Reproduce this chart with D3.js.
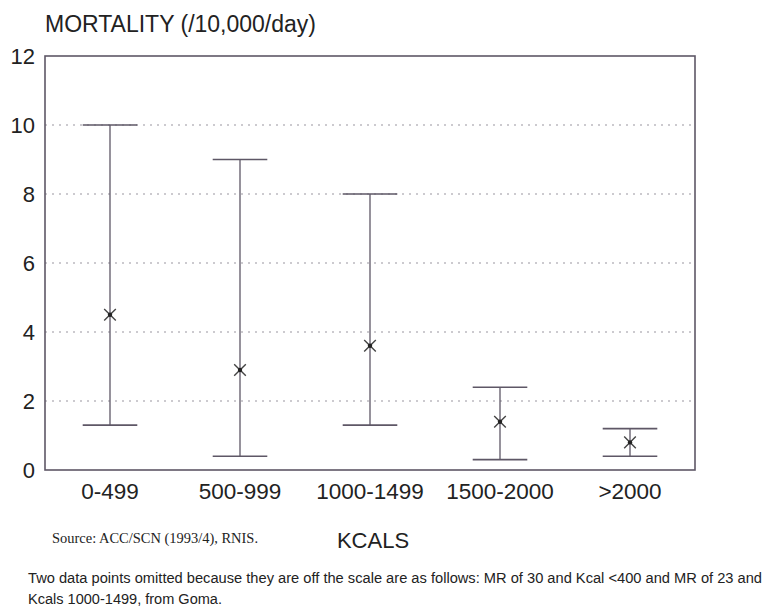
<!DOCTYPE html>
<html>
<head>
<meta charset="utf-8">
<script src="https://cdn.jsdelivr.net/npm/d3@7"></script>
<style>
  body { margin: 0; background: #fff; }
  svg text { fill: #222; }
</style>
</head>
<body>
<script>
// chart values
var categories = ["0-499", "500-999", "1000-1499", "1500-2000", ">2000"]
var means = [4.5, 2.9, 3.6, 1.4, 0.8]
var highs = [10, 9, 8, 2.4, 1.2]
var lows = [1.3, 0.4, 1.3, 0.3, 0.4]
var yTicks = [0, 2, 4, 6, 8, 10, 12]

var title = "MORTALITY (/10,000/day)"
var xTitle = "KCALS"
var source = "Source: ACC/SCN (1993/4), RNIS."
var note1 = "Two data points omitted because they are off the scale are as follows: MR of 30 and Kcal <400 and MR of 23 and"
var note2 = "Kcals 1000-1499, from Goma."

var data = categories.map(function(c, i) {
  return { cat: c, mean: means[i], hi: highs[i], lo: lows[i] }
})

const width = 764, height = 613
const margin = { top: 56, left: 45, right: 69, bottom: 143 }
var plotW = width - margin.left - margin.right
var plotH = height - margin.top - margin.bottom
var lineColor = "#5e5766"

var svg = d3.select("body").append("svg")
  .attr("width", width)
  .attr("height", height)
  .style("font-family", "'Liberation Sans', Arial, sans-serif")

var g = svg.append("g")
  .attr("transform", "translate(" + margin.left + "," + margin.top + ")")

var x = d3.scaleBand().domain(categories).range([0, plotW])
var y = d3.scaleLinear().domain([0, 12]).range([plotH, 0])

// dotted grid lines
g.selectAll(".grid")
  .data(yTicks.filter(function(t) { return t > 0 && t < 12 }))
  .enter().append("line")
  .attr("class", "grid")
  .attr("x1", 0).attr("x2", plotW)
  .attr("y1", function(d) { return y(d) })
  .attr("y2", function(d) { return y(d) })
  .attr("stroke", "#9a96a0")
  .attr("stroke-width", 1.2)
  .attr("stroke-dasharray", "2,5")

// y axis labels
var yAxis = g.append("g")
  .call(d3.axisLeft(y).tickValues(yTicks).tickSize(0).tickPadding(10))
yAxis.select(".domain").remove()
yAxis.selectAll("text")
  .style("font-size", "22px")
  .style("font-family", "'Liberation Sans', Arial, sans-serif")
  .attr("fill", "#222")

// x axis labels
var xAxis = g.append("g")
  .attr("transform", "translate(0," + plotH + ")")
  .call(d3.axisBottom(x).tickSize(0).tickPadding(13))
xAxis.select(".domain").remove()
xAxis.selectAll("text")
  .style("font-size", "22.5px")
  .style("font-family", "'Liberation Sans', Arial, sans-serif")
  .attr("fill", "#222")

// frame around plot
g.append("rect")
  .attr("x", 0).attr("y", 0)
  .attr("width", plotW).attr("height", plotH)
  .attr("fill", "none")
  .attr("stroke", lineColor)
  .attr("stroke-width", 1.6)

var capHalf = x.bandwidth() * 0.21

var bars = g.selectAll(".bar")
  .data(data)
  .enter().append("g")
  .attr("class", "bar")
  .attr("transform", function(d) { return "translate(" + (x(d.cat) + x.bandwidth() / 2) + ",0)" })

// vertical range line
bars.append("line")
  .attr("x1", 0).attr("x2", 0)
  .attr("y1", function(d) { return y(d.hi) })
  .attr("y2", function(d) { return y(d.lo) })
  .attr("stroke", lineColor).attr("stroke-width", 1.3)

// caps
bars.append("line")
  .attr("x1", -capHalf).attr("x2", capHalf)
  .attr("y1", function(d) { return y(d.hi) })
  .attr("y2", function(d) { return y(d.hi) })
  .attr("stroke", lineColor).attr("stroke-width", 1.6)
bars.append("line")
  .attr("x1", -capHalf).attr("x2", capHalf)
  .attr("y1", function(d) { return y(d.lo) })
  .attr("y2", function(d) { return y(d.lo) })
  .attr("stroke", lineColor).attr("stroke-width", 1.6)

// mean marker (asterisk)
bars.append("path")
  .attr("d", d3.symbol().type(d3.symbolTimes).size(90))
  .attr("transform", function(d) { return "translate(0," + y(d.mean) + ")" })
  .attr("fill", "none")
  .attr("stroke", "#444")
  .attr("stroke-width", 1.4)
bars.append("circle")
  .attr("cy", function(d) { return y(d.mean) })
  .attr("r", 2.2)
  .attr("fill", "#222")

// titles and notes
svg.append("text")
  .attr("x", 45).attr("y", 32)
  .style("font-size", "23px")
  .text(title)

svg.append("text")
  .attr("x", 373).attr("y", 548)
  .attr("text-anchor", "middle")
  .style("font-size", "22px")
  .text(xTitle)

svg.append("text")
  .attr("x", 52).attr("y", 543)
  .style("font-family", "'Liberation Serif', 'Times New Roman', serif")
  .style("font-size", "14.5px")
  .attr("textLength", 206)
  .attr("lengthAdjust", "spacingAndGlyphs")
  .text(source)

svg.append("text")
  .attr("x", 28).attr("y", 583)
  .style("font-size", "14px")
  .attr("textLength", 734)
  .attr("lengthAdjust", "spacingAndGlyphs")
  .text(note1)

svg.append("text")
  .attr("x", 28).attr("y", 604)
  .style("font-size", "14px")
  .attr("textLength", 194)
  .attr("lengthAdjust", "spacingAndGlyphs")
  .text(note2)
</script>
</body>
</html>
